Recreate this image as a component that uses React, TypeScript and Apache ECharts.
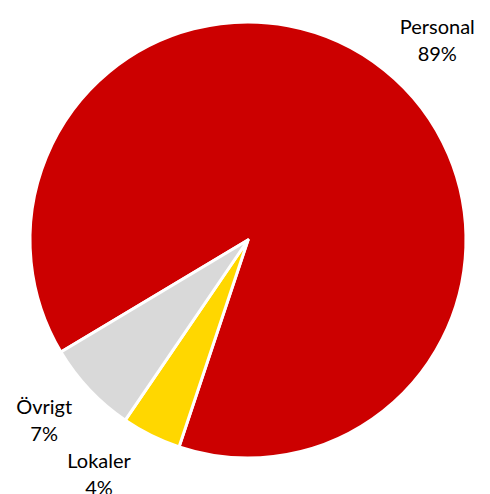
import React, { useEffect, useRef } from "react";
import * as echarts from "echarts";

const categories = ["Personal", "Lokaler", "Övrigt"];
const values = [88.7, 4.4, 6.9];
const colors = ["#CC0000", "#FFD700", "#D9D9D9"];
const labelShiftX = [4, -11, -5];
const labelShiftY = [-23, 29, 23];

export default function App() {
  const ref = useRef<HTMLDivElement>(null);
  useEffect(() => {
    if (!ref.current) return;
    const chart = echarts.init(ref.current, null, { renderer: "svg" });
    chart.setOption({
      animation: false,
      series: [
        {
          type: "pie",
          center: [248, 240],
          radius: [0, 218],
          startAngle: 210.9,
          clockwise: true,
          avoidLabelOverlap: false,
          data: categories.map((c, i) => ({
            name: c,
            value: values[i],
            itemStyle: { color: colors[i] },
          })),
          itemStyle: { borderColor: "#ffffff", borderWidth: 3 },
          label: {
            show: true,
            position: "outside",
            formatter: (p: any) => `{a|${p.name}}\n{a|${Math.round(p.percent)}%}`,
            rich: {
              a: {
                fontFamily: "Lato, 'DejaVu Sans', sans-serif",
                fontSize: 20,
                color: "#000000",
                align: "center",
                lineHeight: 27,
              },
            },
          },
          labelLine: { show: false, length: 10, length2: 0 },
          labelLayout: (p: any) => ({
            dx: labelShiftX[p.dataIndex],
            dy: labelShiftY[p.dataIndex],
          }),
        },
      ],
    });
    return () => chart.dispose();
  }, []);
  return <div ref={ref} style={{ width: 490, height: 494, position: "absolute", left: 0, top: 0 }} />;
}
